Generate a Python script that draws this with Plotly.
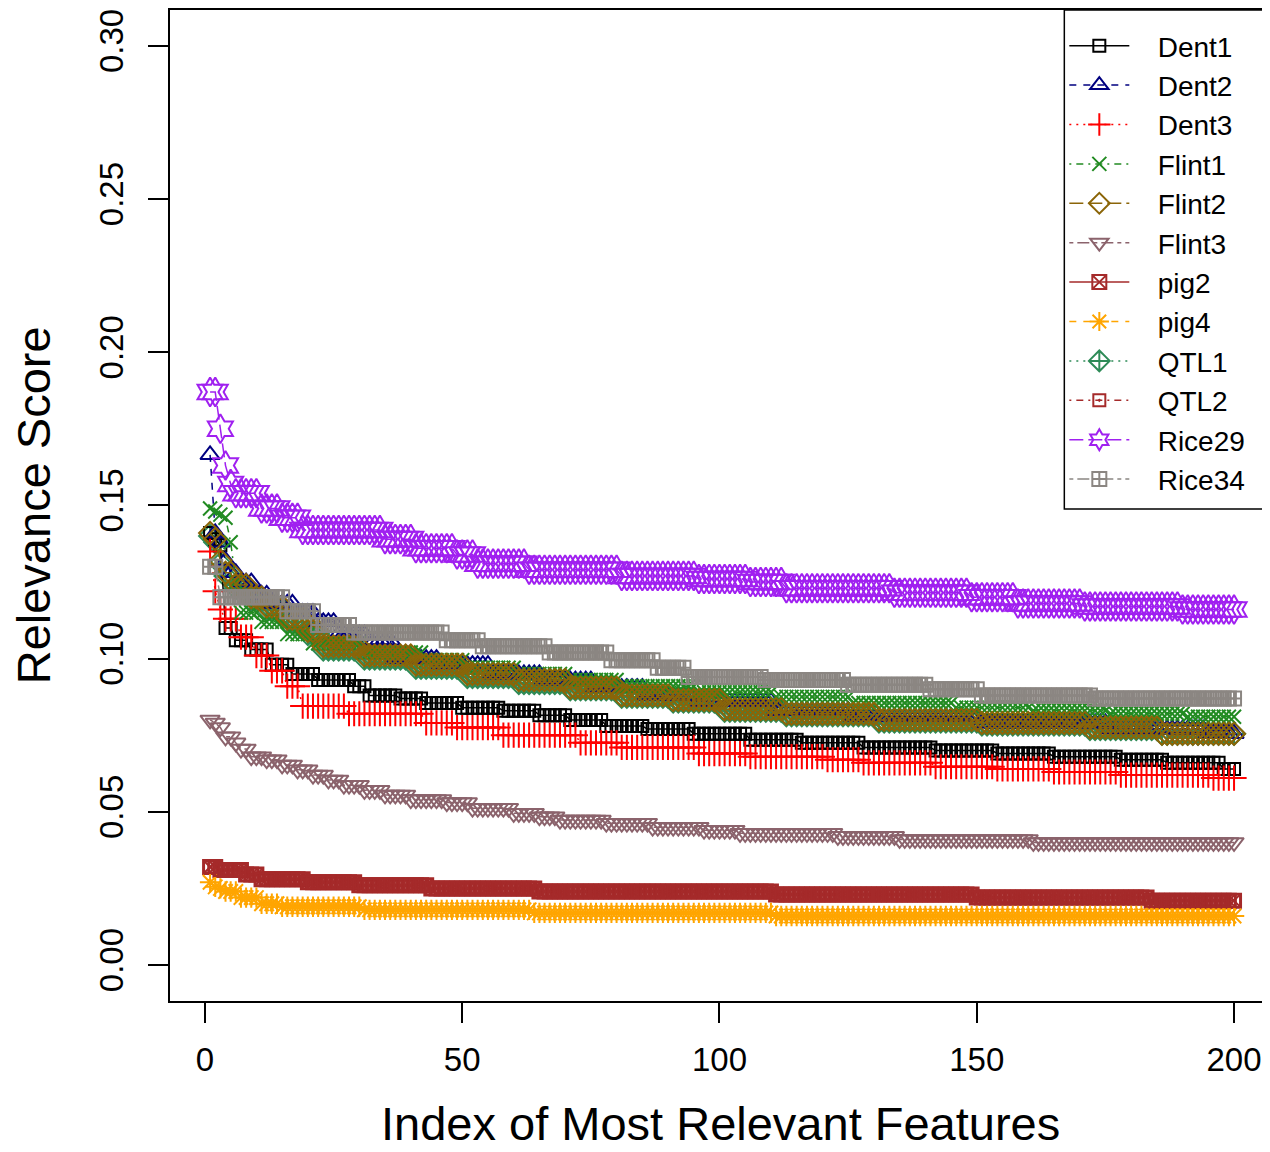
import plotly.graph_objects as go

# ---- data: (value, run length) over index 1..200 ----
dent1_runs = [(0.141, 1), (0.139, 1), (0.137, 1), (0.110, 2), (0.106, 3), (0.103, 4), (0.098, 4),
              (0.095, 5), (0.093, 7), (0.091, 3), (0.088, 6), (0.087, 5), (0.0855, 7), (0.084, 8),
              (0.083, 7), (0.0815, 6), (0.080, 7), (0.078, 8), (0.077, 9), (0.0755, 11), (0.0735, 10),
              (0.0725, 12), (0.071, 14), (0.070, 12), (0.069, 11), (0.068, 13), (0.067, 9), (0.066, 11),
              (0.064, 3)]
dent2_runs = [(0.1665, 1), (0.141, 1), (0.138, 1), (0.132, 1), (0.128, 2), (0.125, 3), (0.121, 3),
              (0.118, 5), (0.115, 4), (0.112, 4), (0.108, 6), (0.106, 5), (0.100, 9), (0.098, 10),
              (0.095, 10), (0.093, 10), (0.0905, 10), (0.088, 10), (0.086, 15), (0.083, 15), (0.081, 25),
              (0.079, 25), (0.077, 19), (0.0755, 6)]
dent3_runs = [(0.135, 1), (0.122, 1), (0.116, 1), (0.113, 3), (0.107, 3), (0.101, 3), (0.096, 3),
              (0.091, 3), (0.0845, 9), (0.082, 15), (0.079, 6), (0.0775, 9), (0.075, 15), (0.0725, 8),
              (0.071, 15), (0.069, 10), (0.068, 15), (0.067, 7), (0.066, 14), (0.0647, 12), (0.064, 11),
              (0.063, 13), (0.062, 18), (0.061, 5)]
flint1_runs = [(0.149, 1), (0.148, 1), (0.147, 1), (0.146, 1), (0.138, 1), (0.125, 1), (0.115, 4),
               (0.112, 5), (0.108, 5), (0.105, 10), (0.102, 12), (0.0995, 8), (0.097, 10), (0.095, 10),
               (0.093, 10), (0.091, 15), (0.089, 15), (0.0875, 15), (0.0855, 20), (0.084, 15),
               (0.083, 15), (0.082, 15), (0.081, 10)]
flint2_runs = [(0.141, 1), (0.139, 1), (0.132, 1), (0.128, 2), (0.124, 3), (0.120, 3), (0.117, 4),
               (0.113, 4), (0.109, 3), (0.104, 8), (0.101, 10), (0.098, 10), (0.095, 10), (0.093, 10),
               (0.0905, 10), (0.088, 10), (0.0865, 10), (0.0835, 12), (0.082, 18), (0.080, 20),
               (0.079, 21), (0.0775, 14), (0.0755, 15)]
flint3_runs = [(0.080, 1), (0.079, 1), (0.0775, 1), (0.0745, 2), (0.0725, 1), (0.0705, 2), (0.068, 3),
               (0.067, 3), (0.0653, 3), (0.0637, 3), (0.062, 3), (0.0604, 3), (0.0587, 4), (0.057, 4),
               (0.0555, 5), (0.054, 7), (0.053, 5), (0.0512, 8), (0.0495, 5), (0.0484, 4), (0.0473, 9),
               (0.0463, 9), (0.045, 10), (0.044, 7), (0.043, 19), (0.042, 12), (0.041, 26), (0.040, 40)]
pig2_runs = [(0.032, 2), (0.031, 5), (0.0295, 3), (0.028, 9), (0.027, 10), (0.026, 14), (0.025, 21),
             (0.024, 46), (0.023, 39), (0.022, 34), (0.021, 17)]
pig4_runs = [(0.027, 1), (0.0255, 1), (0.025, 1), (0.024, 3), (0.022, 4), (0.020, 4), (0.019, 16),
             (0.018, 33), (0.017, 47), (0.016, 90)]
qtl1_runs = [(0.140, 1), (0.138, 1), (0.131, 1), (0.127, 2), (0.123, 3), (0.119, 3), (0.116, 4),
             (0.112, 4), (0.108, 3), (0.103, 8), (0.100, 10), (0.097, 10), (0.094, 10), (0.092, 10),
             (0.090, 10), (0.0875, 10), (0.086, 10), (0.083, 12), (0.0815, 18), (0.0795, 20),
             (0.0785, 21), (0.077, 14), (0.0755, 15)]
qtl2_runs = [(0.032, 2), (0.031, 5), (0.0295, 3), (0.028, 9), (0.027, 10), (0.026, 14), (0.025, 21),
             (0.024, 46), (0.023, 39), (0.022, 34), (0.021, 17)]
rice29_runs = [(0.187, 2), (0.175, 1), (0.163, 1), (0.157, 1), (0.154, 5), (0.149, 4), (0.146, 4),
               (0.142, 16), (0.139, 6), (0.136, 8), (0.134, 4), (0.131, 10), (0.129, 18), (0.127, 15),
               (0.126, 10), (0.125, 7), (0.123, 21), (0.1215, 15), (0.120, 9), (0.118, 13), (0.117, 19),
               (0.116, 11)]
rice34_runs = [(0.130, 2), (0.120, 13), (0.1155, 6), (0.111, 7), (0.1085, 18), (0.106, 7), (0.104, 13),
               (0.102, 12), (0.0995, 9), (0.097, 6), (0.094, 15), (0.093, 16), (0.0915, 16), (0.090, 10),
               (0.088, 22), (0.087, 28)]

series_names = ["Dent1", "Dent2", "Dent3", "Flint1", "Flint2", "Flint3",
                "pig2", "pig4", "QTL1", "QTL2", "Rice29", "Rice34"]
series_runs = [dent1_runs, dent2_runs, dent3_runs, flint1_runs, flint2_runs, flint3_runs,
               pig2_runs, pig4_runs, qtl1_runs, qtl2_runs, rice29_runs, rice34_runs]
x_ticks = [0, 50, 100, 150, 200]
y_ticks = [0.00, 0.05, 0.10, 0.15, 0.20, 0.25, 0.30]

# ---- styles ----
colors = ["#000000", "#000080", "#FF0000", "#228B22", "#8B6508", "#8B636C",
          "#A52A2A", "#FFA500", "#2E8B57", "#A52A2A", "#A020F0", "#8B8682"]
symbols = ["square-open", "triangle-up-open", "cross-thin-open", "x-thin-open", "diamond-open",
           "triangle-down-open", "square-x-open", "asterisk-open", "diamond-cross-open",
           "square-open-dot", "hexagram-open", "square-cross-open"]
sizes = [12, 17, 18, 14, 17, 17, 14, 17, 17, 12, 22, 14]
dashes = ["solid", "7px,7px", "2px,5px", "2px,5px,7px,5px", "14px,5px", "4px,4px,12px,4px",
          "solid", "7px,7px", "2px,5px", "2px,5px,7px,5px", "14px,5px", "4px,4px,12px,4px"]


def expand(runs):
    out = []
    for v, n in runs:
        out.extend([v] * n)
    return out


fig = go.Figure()
# QTL1 is hidden beneath the other series in the reference, so it is drawn first
draw_order = [8, 0, 1, 2, 3, 4, 5, 6, 7, 9, 10, 11]
NB = "\u00a0\u00a0\u00a0"
for i in draw_order:
    ys = expand(series_runs[i])
    xs = list(range(1, len(ys) + 1))
    fig.add_trace(go.Scatter(
        x=xs, y=ys, name=NB + series_names[i], mode="lines+markers", legendrank=i + 1,
        line=dict(color=colors[i], width=1.5, dash=dashes[i]),
        marker=dict(symbol=symbols[i], size=sizes[i], color=colors[i],
                    line=dict(color=colors[i], width=2)),
    ))

FONT = "Liberation Sans, Arial, Helvetica, sans-serif"
# the page body has an 8px margin, so the figure is 8px smaller and its margins shifted
fig.update_layout(
    width=1262, height=1144,
    margin=dict(l=162, r=0, t=2, b=151),
    paper_bgcolor="white", plot_bgcolor="white",
    font=dict(family=FONT, color="black"),
    showlegend=True,
    legend=dict(x=0.8145, y=0.9889, xanchor="left", yanchor="top",
                bgcolor="rgba(0,0,0,0)", borderwidth=0,
                font=dict(family=FONT, size=28, color="black"),
                tracegroupgap=0, itemwidth=60),
    shapes=[dict(type="rect", xref="paper", yref="paper", x0=0.8145, x1=1.02, y0=0.4965, y1=1.0,
                 line=dict(color="black", width=1.5), fillcolor="rgba(0,0,0,0)", layer="above")],
    xaxis=dict(range=[-6.79, 206.6], tickvals=x_ticks, ticktext=[str(v) for v in x_ticks],
               showgrid=False, zeroline=False, showline=True, mirror=True,
               linecolor="black", linewidth=1.5, ticks="outside", ticklen=20,
               tickwidth=1.5, tickcolor="black", ticklabelstandoff=9,
               tickfont=dict(family=FONT, size=33, color="black")),
    yaxis=dict(range=[-0.01175, 0.3117], tickvals=y_ticks, ticktext=["%.2f" % v for v in y_ticks],
               showgrid=False, zeroline=False, showline=True, mirror=True,
               linecolor="black", linewidth=1.5, ticks="outside", ticklen=20,
               tickwidth=1.5, tickcolor="black", tickangle=-90, ticklabelstandoff=12,
               tickfont=dict(family=FONT, size=33, color="black")),
    annotations=[
        dict(text="Index of Most Relevant Features", xref="paper", yref="paper",
             x=0.5018, y=-0.1241, xanchor="center", yanchor="middle", showarrow=False,
             font=dict(family=FONT, size=47, color="black")),
        dict(text="Relevance Score", xref="paper", yref="paper",
             x=-0.1245, y=0.5005, xanchor="center", yanchor="middle", showarrow=False,
             textangle=-90, font=dict(family=FONT, size=47, color="black")),
    ],
)

fig.write_html("out.html")
